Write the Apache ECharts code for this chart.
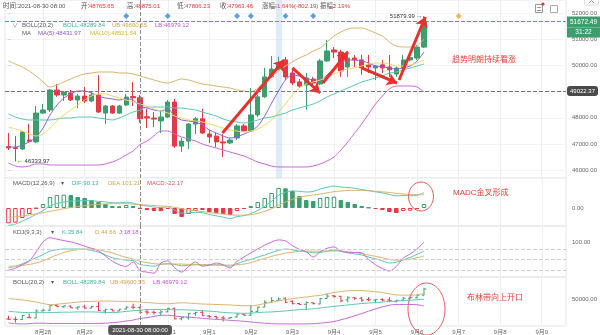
<!DOCTYPE html>
<html><head><meta charset="utf-8">
<script src="https://cdn.jsdelivr.net/npm/echarts@6/dist/echarts.min.js"></script>
<style>html,body{margin:0;padding:0;background:#fff}#c{width:600px;height:335px}</style>
</head><body><div id="c"></div>
<script>
// ---------- categories (4h candles) ----------
const startTime = Date.UTC(2021, 7, 27, 4);
const categories = [];
for (let i = 0; i < 81; i++) {
  const d = new Date(startTime + i * 4 * 3600e3);
  const p = n => String(n).padStart(2, '0');
  categories.push(d.getUTCFullYear() + '-' + p(d.getUTCMonth() + 1) + '-' + p(d.getUTCDate()) + ' ' + p(d.getUTCHours()) + ':00');
}
// ---------- candles ----------
const open = [46900,46860,46810,47150,47080,48180,48300,49060,48870,48950,48680,48830,48640,48870,48180,48450,48180,48490,48810,48765.65,48040,47990,47880,48030,48600,46920,47110,47760,47960,47380,47300,47080,47040,47230,47690,47500,48110,48800,49560,49860,50210,49710,49370,49250,49480,49290,50170,50590,50510,49940,50280,50210,50020,49900,50020,49940,49670,49900,50210,50280,50700];
const high = [47420,47300,47490,47760,48450,48530,49100,49290,49020,49060,48910,49180,48980,49630,48490,48490,48490,48910,49360,48875.01,48340,48220,48300,48680,48720,47230,47800,48030,48340,47530,47420,47380,47230,47760,47760,49140,48880,49900,50360,50330,50320,49860,49480,49710,49560,50240,50970,50700,50590,50550,50400,50400,50400,50020,50200,50400,49940,50400,50450,50780,51879.99];
const low = [46770,46333.97,46770,47040,47040,48150,48220,48800,48640,48640,48370,48560,48600,48180,47760,48150,48150,48450,48450,47806.23,47610,47650,47420,47990,46850,46700,46810,47380,47380,47040,46880,46500,47000,47150,47460,47460,48030,48760,49520,49820,49440,49250,49140,48300,49250,49250,50130,50280,49560,49560,49940,49640,49710,49440,49710,49560,49560,49860,50150,50210,50660];
const close = [46850,46830,47460,47100,48180,48300,49060,48870,48980,48680,48830,48640,48870,48220,48450,48180,48450,48790,48765.65,47963.46,47990,47950,48030,48600,46920,47110,47760,47960,47420,47270,47080,47040,47150,47690,47500,48110,48800,49560,49860,50090,49560,49330,49210,49520,49330,50170,50550,50510,49790,50280,50210,49900,49940,49980,49900,49830,49900,50210,50300,50700,51672.49];
// ---------- overlays ----------
const ma5 = [46885,46885,46962,47076,47267,47610,48107,48488,48756,48908,49023,49023,48946,48832,48756,48717,48679,48717,48679,48431.97,48374,48298,48259,48336,48068,47916,47878,47839,47725,47534,47420,47305,47229,47267,47381,47496,47687,48068,48565,49023,49443,49633,49595,49519,49443,49443,49633,49901,50092,50206,50206,50168,50092,49977,49939,49901,49863,49901,49977,50168,50511];
const ma10 = [47649,47572,47496,47381,47305,47381,47610,47878,48107,48298,48488,48679,48832,48908,48908,48832,48756,48679,48603,48521.54,48450,48336,48259,48183,48068,47992,47916,47878,47839,47763,47687,47610,47534,47496,47458,47496,47572,47725,47916,48221,48526,48870,49137,49290,49366,49443,49557,49672,49786,49863,49901,49977,50053,50092,50092,50053,49977,49977,50015,50092,50206];
const bollUp = [50168,50053,49939,49786,49595,49366,49175,49252,49366,49481,49595,49672,49710,49748,49748,49748,49710,49710,49672,49600.55,49519,49443,49366,49328,49404,49481,49443,49366,49290,49252,49214,49175,49137,49061,49023,48985,49137,49366,49557,49786,49977,50130,50282,50397,50549,50664,50893,51122,51275,51389,51427,51427,51351,51236,51122,50893,50740,50702,50702,50740,51007];
const bollMid = [48145,48030,47954,47916,47916,47916,47916,47954,47992,47992,48030,48030,48030,47992,47954,47916,47992,48107,48221,48289.84,48412,48412,48412,48412,48374,48374,48336,48298,48221,48145,48068,47954,47878,47839,47801,47839,47916,47992,48030,48107,48183,48298,48374,48450,48526,48641,48794,48908,49023,49137,49252,49366,49443,49519,49595,49710,49748,49824,49901,49977,50053];
const bollLow = [46275,46160,46122,46160,46237,46237,46198,46198,46198,46198,46198,46198,46198,46198,46237,46313,46427,46580,46733,46979.12,47114,47305,47496,47496,47381,47267,47191,47114,47000,46920,46847,46771,46694,46618,46542,46427,46313,46237,46160,46122,46122,46122,46122,46122,46160,46237,46351,46504,46771,47076,47420,47763,48145,48526,48832,49099,49214,49214,49214,49175,48985];
// ---------- MACD ----------
const macdDif = [-520,-485,-390,-300,-188,-80,65,135,180,210,210,220,215,200,182,158,155,173,148,90.13,60,30,12,35,-70,-155,-150,-130,-140,-195,-235,-275,-315,-260,-230,-170,-70,50,205,380,475,515,500,480,495,570,620,660,630,615,590,555,523,485,455,405,365,375,365,383,460];
const macdDea = [-290,-265,-240,-210,-180,-140,-100,-60,-20,15,45,70,95,110,122,128,130,128,118,101.21,90,75,60,50,20,-20,-60,-85,-110,-135,-160,-185,-210,-215,-215,-200,-160,-100,-20,80,180,260,320,360,390,420,455,490,510,525,530,525,515,500,485,465,440,420,405,398,400];
const macdHist = [-460,-440,-300,-180,-15,120,330,390,400,390,330,300,240,180,120,60,50,90,60,-22.17,-60,-90,-95,-30,-180,-270,-180,-90,-60,-120,-150,-180,-210,-90,-30,60,180,300,450,600,590,510,360,240,210,300,330,340,240,180,120,60,15,-30,-60,-120,-150,-90,-80,-30,120];
// ---------- KDJ ----------
const kdjK = [27,30,38,46,55,64,74,78,80,80,80,79,76,71,63,55,51,48,47,35.84,33,31,36,38,36,32,33,35,34,34,35,33,31,38,45,50,57,63,70,76,80,78,74,72,69,70,74,77,74,69,66,63,57,52,46,40,42,49,56,65,74];
const kdjD = [31,31,33,36,40,46,55,63,70,75,78,80,80,78,73,69,62,56,51,44.66,41,38,37,37,37,37,36,36,35,35,34,34,34,35,37,41,47,53,59,64,68,71,73,74,74,74,74,74,74,72,70,67,63,59,55,50,48,49,51,55,60];
const kdjJ = [20,25,35,45,72,100,112,108,104,100,95,88,82,75,60,45,35,30,43,18.18,14,11,40,46,26,14,30,43,31,34,40,35,26,45,57,69,80,91,100,106,103,90,79,72,57,72,82,86,74,70,70,69,50,35,24,17,30,54,66,80,100];
const kdjLevels = [80, 50, 20];
// ---------- annotations ----------
const crossIdx = 19;
const crossPrice = 49022.37;
const eventIdx = [17, 23, 33, 35, 40, 44];
const futureEventIdx = [65];
const eventLevel = 51885;
const highlightSpan = [38.6, 39.5];
const trendArrows = [
  [[30.9, 47420], [39.8, 50206]],
  [[41.0, 49901], [45.0, 48946]],
  [[45.4, 49328], [49.0, 50511]],
  [[51.0, 49901], [56.1, 49328]],
  [[56.4, 49443], [60.2, 51847]]
];

const green = '#3c9d6d', red = '#e23a44';
const cTeal = '#5cc6b4', cTan = '#dab46c', cPurple = '#c76ad6', cMa5 = '#8a63d6', cMa10 = '#efd865';
const FONT = '"Liberation Sans","Noto Sans CJK SC",sans-serif';
const dayFn = (idx, val) => String(val).slice(11) === '00:00';
const fmtDay = v => (+v.slice(5, 7)) + '月' + (+v.slice(8, 10));

const chart = echarts.init(document.getElementById('c'), null, {renderer: 'canvas'});

const gridBase = {left: 5, right: 34, show: true, borderColor: '#e6e6e6', borderWidth: 1};
const xAxes = [0, 1, 2, 3].map(i => ({
  type: 'category', gridIndex: i, data: categories, boundaryGap: true,
  axisLine: {show: false}, axisTick: {show: false},
  axisLabel: i === 3 ? {show: true, interval: dayFn, formatter: fmtDay, fontSize: 6, color: '#666', margin: 3, fontFamily: FONT} : {show: false},
  splitLine: {show: true, interval: dayFn, alignWithLabel: true, lineStyle: {color: '#eef0f3', width: 1}},
  axisPointer: {
    show: true, status: 'show', value: crossIdx, type: 'line', snap: false, triggerTooltip: false,
    lineStyle: {color: '#8c8c8c', type: 'dashed', width: 1},
    label: {show: i === 3, formatter: () => categories[crossIdx] + ':00', backgroundColor: '#555', color: '#fff', fontSize: 6, padding: [2, 4], margin: 1, fontFamily: FONT}
  }
}));
xAxes.push({type: 'value', gridIndex: 0, min: -0.5, max: 80.5, show: false, axisPointer: {show: false}});

const yCommon = {position: 'right', axisLine: {show: false}, axisTick: {show: false}};
const yAxes = [
  Object.assign({}, yCommon, {gridIndex: 0, min: 45702, max: 52496, splitNumber: 7,
    axisTick: {show: true, length: 2, lineStyle: {color: '#ccc'}},
    axisLabel: {fontSize: 6, color: '#666', margin: 6, showMinLabel: false, showMaxLabel: false, formatter: v => v.toFixed(2), fontFamily: FONT},
    splitLine: {show: true, lineStyle: {color: '#f3f3f3'}},
    axisPointer: {show: true, status: 'show', value: crossPrice, type: 'line', triggerTooltip: false,
      lineStyle: {color: '#777', type: 'dashed', width: 1},
      label: {show: true, formatter: p => Number(p.value).toFixed(2), backgroundColor: '#4a4a4a', color: '#fff', fontSize: 6, padding: [2, 3], margin: 1, fontFamily: FONT}}
  }),
  Object.assign({}, yCommon, {gridIndex: 1, min: -540, max: 900, splitLine: {show: false},
    axisLabel: {fontSize: 6, color: '#666', margin: 6, formatter: v => v === 0 ? '0.00' : '', fontFamily: FONT}, axisPointer: {show: false}}),
  Object.assign({}, yCommon, {gridIndex: 2, min: 0, max: 145.7, interval: 50, splitLine: {show: false},
    axisLabel: {fontSize: 6, color: '#666', margin: 6, formatter: v => v === 100 ? '100.00' : '', fontFamily: FONT}, axisPointer: {show: false}}),
  Object.assign({}, yCommon, {gridIndex: 3, min: 45788, max: 53588, splitLine: {show: false},
    axisLabel: {fontSize: 6, color: '#666', margin: 6, formatter: v => v === 50000 ? '50000.00' : '', fontFamily: FONT}, axisPointer: {show: false}})
];

const lineS = (name, data, color, xi, yi, extra) => Object.assign({
  name, type: 'line', data, xAxisIndex: xi, yAxisIndex: yi, showSymbol: false, symbol: 'none', smooth: 0.3,
  lineStyle: {color, width: 1}, itemStyle: {color}, silent: true, z: 3
}, extra || {});

const macdBars = macdHist.map((v, i) => {
  const col = v >= 0 ? green : red;
  const hollow = i === 0 || v > macdHist[i - 1];
  return {value: v, itemStyle: {color: hollow ? '#fff' : col, borderColor: col, borderWidth: 1}};
});

const lastI = close.length - 1;
let minI = 0; low.forEach((v, i) => { if (v < low[minI]) minI = i; });
let maxI = 0; high.forEach((v, i) => { if (v > high[maxI]) maxI = i; });

const series = [
  {
    type: 'candlestick', xAxisIndex: 0, yAxisIndex: 0, barWidth: '70%', z: 2,
    data: open.map((o, i) => [o, close[i], low[i], high[i]]),
    itemStyle: {color: green, color0: red, borderColor: green, borderColor0: red, borderWidth: 1},
    markLine: {
      silent: true, symbol: ['none', 'none'], animation: false,
      lineStyle: {color: '#4aa39a', type: 'dashed', width: 1},
      data: [{yAxis: close[lastI]}],
      label: {show: true, position: 'end', distance: 1, padding: [11, 0, 0, 0],
        formatter: () => '{a|' + close[lastI].toFixed(2) + '}\n{b|31:22}',
        rich: {
          a: {backgroundColor: green, color: '#fff', fontSize: 6.5, width: 33, height: 11, lineHeight: 11, align: 'center', fontFamily: FONT},
          b: {backgroundColor: green, color: '#fff', fontSize: 6.5, width: 33, height: 10, lineHeight: 10, align: 'center', fontFamily: FONT}
        }}
    },
    markPoint: {
      silent: true, symbol: 'circle', symbolSize: 1, itemStyle: {color: 'rgba(0,0,0,0)'},
      data: [
        {coord: [maxI, high[maxI]], label: {show: true, position: 'left', distance: 1, formatter: high[maxI].toFixed(2) + ' →', fontSize: 6, color: '#333', fontFamily: FONT}},
        {coord: [minI, low[minI]], label: {show: true, position: 'right', distance: 1, formatter: '← ' + low[minI].toFixed(2), fontSize: 6, color: '#333', fontFamily: FONT}}
      ]
    }
  },
  lineS('UB', bollUp, cTan, 0, 0),
  lineS('BOLL', bollMid, cTeal, 0, 0),
  lineS('LB', bollLow, cPurple, 0, 0),
  lineS('MA5', ma5, cMa5, 0, 0),
  lineS('MA10', ma10, cMa10, 0, 0),
  {
    type: 'scatter', xAxisIndex: 4, yAxisIndex: 0, symbol: 'diamond', symbolSize: 6, silent: true, z: 4,
    data: eventIdx.map(i => ({value: [i, eventLevel], itemStyle: {color: '#3a84df'}}))
      .concat(futureEventIdx.map(i => ({value: [i, eventLevel], itemStyle: {color: '#f0a43a'}}))),
    markArea: {silent: true, itemStyle: {color: 'rgba(190,215,242,0.5)'}, data: [[{xAxis: highlightSpan[0]}, {xAxis: highlightSpan[1]}]]},
    markLine: {
      silent: true, symbol: ['none', 'arrow'], symbolSize: 10, animation: false,
      lineStyle: {color: '#e8302c', width: 3, type: 'solid'}, label: {show: false},
      data: trendArrows.map(a => [{coord: a[0]}, {coord: a[1]}])
    }
  },
  {type: 'bar', xAxisIndex: 1, yAxisIndex: 1, data: macdBars, barWidth: '65%', silent: true},
  lineS('DIF', macdDif, cTeal, 1, 1),
  lineS('DEA', macdDea, cTan, 1, 1),
  lineS('K', kdjK, cTeal, 2, 2, {markLine: {silent: true, symbol: ['none', 'none'], label: {show: false},
    lineStyle: {color: '#cfcfcf', type: 'dashed', width: 1}, data: kdjLevels.map(v => ({yAxis: v}))}}),
  lineS('D', kdjD, cTan, 2, 2),
  lineS('J', kdjJ, cPurple, 2, 2),
  {
    type: 'custom', xAxisIndex: 3, yAxisIndex: 3, silent: true, z: 2,
    data: open.map((o, i) => [i, o, close[i], low[i], high[i]]),
    encode: {x: 0, y: [1, 2, 3, 4]},
    renderItem: (params, api) => {
      const x = api.value(0), o = api.value(1), c = api.value(2), l = api.value(3), h = api.value(4);
      const pO = api.coord([x, o]), pC = api.coord([x, c]), pL = api.coord([x, l]), pH = api.coord([x, h]);
      const w = api.size([1, 0])[0] * 0.32;
      const col = c >= o ? green : red;
      const st = {stroke: col, lineWidth: 1};
      return {type: 'group', children: [
        {type: 'line', shape: {x1: pH[0], y1: pH[1], x2: pL[0], y2: pL[1]}, style: st},
        {type: 'line', shape: {x1: pO[0] - w, y1: pO[1], x2: pO[0], y2: pO[1]}, style: st},
        {type: 'line', shape: {x1: pC[0], y1: pC[1], x2: pC[0] + w, y2: pC[1]}, style: st}
      ]};
    }
  },
  lineS('UB2', bollUp, cTan, 3, 3),
  lineS('BOLL2', bollMid, cTeal, 3, 3),
  lineS('LB2', bollLow, cPurple, 3, 3)
];

// ---------- text overlays ----------
const txt = (x, y, text, color, size) => ({type: 'text', x, y, silent: true, z: 100,
  style: {text, fill: color, fontSize: size || 6, fontFamily: FONT, verticalAlign: 'middle', align: 'left'}});
const ci = crossIdx;
const prevC = close[ci - 1];
const chg = close[ci] - prevC;
const hdrRed = '#e0393e', hdrGray = '#555';
const graphics = [
  txt(3, 6, '时间:', hdrGray, 6.5), txt(18, 6, categories[ci], hdrGray, 6),
  txt(81, 6, '开:', hdrGray, 6.5), txt(89, 6, open[ci].toFixed(2), hdrRed, 6),
  txt(127, 6, '高:', hdrGray, 6.5), txt(135, 6, high[ci].toFixed(2), hdrRed, 6),
  txt(177, 6, '低:', hdrGray, 6.5), txt(185, 6, low[ci].toFixed(2), hdrRed, 6),
  txt(220, 6, '收:', hdrGray, 6.5), txt(228, 6, close[ci].toFixed(2), hdrRed, 6),
  txt(262, 6, '涨幅:', hdrGray, 6.5), txt(275, 6, (chg / prevC * 100).toFixed(2) + '%(' + chg.toFixed(2) + ')', hdrRed, 6),
  txt(320, 6, '振幅:', hdrGray, 6.5), txt(333, 6, ((high[ci] - low[ci]) / prevC * 100).toFixed(2) + '%', hdrRed, 6),
  // main legends
  txt(12, 25, '∨', '#888', 6),
  txt(22, 25, 'BOLL(20,2)', '#555'),
  txt(63, 25, 'BOLL:' + bollMid[ci].toFixed(2), '#3fb3a2'),
  txt(112, 25, 'UB:' + bollUp[ci].toFixed(2), '#d1a54a'),
  txt(155, 25, 'LB:' + bollLow[ci].toFixed(2), '#c254d2'),
  txt(22, 33, 'MA', '#555'),
  txt(38, 33, 'MA(5):' + ma5[ci].toFixed(2), '#8a58d0'),
  txt(90, 33, 'MA(10):' + ma10[ci].toFixed(2), '#d4b624'),
  // MACD
  txt(13, 183, 'MACD(12,26,9)', '#555'), txt(61, 183, '▾', '#555'),
  txt(72, 183, 'DIF:' + macdDif[ci].toFixed(2), '#3fb3a2'),
  txt(108, 183, 'DEA:' + macdDea[ci].toFixed(2), '#d1a54a'),
  txt(147, 183, 'MACD:' + macdHist[ci].toFixed(2), '#e0506a'),
  // KDJ
  txt(13, 232, 'KDJ(9,3,3)', '#555'), txt(51, 232, '▾', '#555'),
  txt(62, 232, 'K:' + kdjK[ci].toFixed(2), '#3fb3a2'),
  txt(95, 232, 'D:' + kdjD[ci].toFixed(2), '#d1a54a'),
  txt(119, 232, 'J:' + kdjJ[ci].toFixed(2), '#c254d2'),
  // BOLL panel
  txt(13, 282, 'BOLL(20,2)', '#555'), txt(51, 282, '▾', '#555'),
  txt(63, 282, 'BOLL:' + bollMid[ci].toFixed(2), '#3fb3a2'),
  txt(110, 282, 'UB:' + bollUp[ci].toFixed(2), '#d1a54a'),
  txt(153, 282, 'LB:' + bollLow[ci].toFixed(2), '#c254d2'),
  // annotations
  txt(452, 60, '趋势明朗持续看涨', '#e3403a', 8),
  txt(453, 193, 'MADC金叉形成', '#e3403a', 8),
  txt(467, 298, '布林带向上开口', '#e3403a', 8),
  {type: 'ellipse', silent: true, z: 100, shape: {cx: 421, cy: 196.5, rx: 12.5, ry: 14.5}, style: {fill: 'none', stroke: '#e35a5a', lineWidth: 1}},
  {type: 'ellipse', silent: true, z: 100, shape: {cx: 426.5, cy: 309, rx: 18.5, ry: 26}, style: {fill: 'none', stroke: '#e35a5a', lineWidth: 1}},
  // toolbar icons
  {type: 'rect', silent: true, z: 100, shape: {x: 535.5, y: 4.5, width: 7, height: 8}, style: {fill: 'none', stroke: '#999', lineWidth: 1}},
  {type: 'line', silent: true, z: 100, shape: {x1: 537, y1: 7.5, x2: 541, y2: 7.5}, style: {stroke: '#999'}},
  {type: 'line', silent: true, z: 100, shape: {x1: 537, y1: 10.5, x2: 541, y2: 10.5}, style: {stroke: '#999'}},
  {type: 'circle', silent: true, z: 101, shape: {cx: 543, cy: 4, r: 1.6}, style: {fill: '#e03030'}},
  {type: 'rect', silent: true, z: 100, shape: {x: 550.5, y: 5.5, width: 7, height: 7}, style: {fill: 'none', stroke: '#aaa', lineWidth: 1}},
  {type: 'rect', silent: true, z: 100, shape: {x: 584.5, y: -3, width: 14, height: 8, r: 1}, style: {fill: '#fff', stroke: '#ddd', lineWidth: 1}},
  {type: 'polyline', silent: true, z: 101, shape: {points: [[589, 3], [591.5, 0.5], [594, 3]]}, style: {fill: 'none', stroke: '#999', lineWidth: 1}}
];

chart.setOption({
  animation: false,
  backgroundColor: '#fff',
  textStyle: {fontFamily: FONT},
  axisPointer: {triggerOn: 'none'},
  grid: [
    Object.assign({}, gridBase, {top: 0, height: 178}),
    Object.assign({}, gridBase, {top: 178, height: 48}),
    Object.assign({}, gridBase, {top: 226, height: 51}),
    Object.assign({}, gridBase, {top: 277, height: 50})
  ],
  xAxis: xAxes,
  yAxis: yAxes,
  series: series,
  graphic: graphics
});
</script></body></html>
